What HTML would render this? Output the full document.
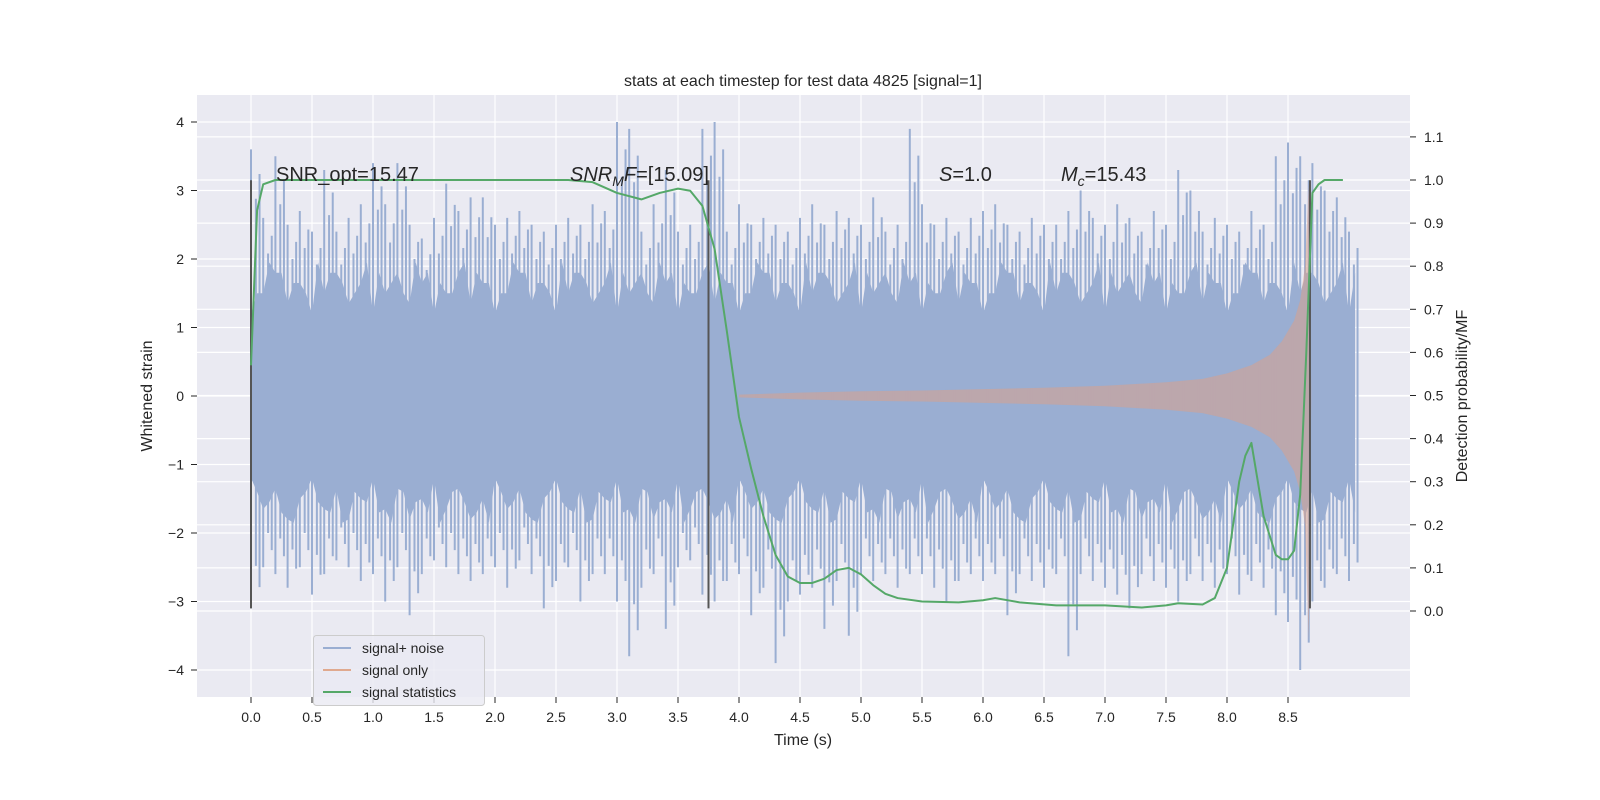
<!DOCTYPE html>
<html><head><meta charset="utf-8"><style>
html,body{margin:0;padding:0;background:#fff;overflow:hidden;width:1600px;height:800px}
svg{display:block}
svg text{font-family:"Liberation Sans","DejaVu Sans",sans-serif;fill:#262626}
</style></head><body>
<svg width="1600" height="800" viewBox="0 0 1600 800">
<rect x="197" y="95" width="1213" height="602" fill="#eaeaf2"/>
<g id="grid"></g>
<g id="noise"></g>
<g id="signal"></g>
<g id="vlines"></g>
<g id="stats"></g>
<g id="axes"></g>
<text x="803" y="86" font-size="16" text-anchor="middle">stats at each timestep for test data 4825 [signal=1]</text>
<text x="803" y="745" font-size="16" text-anchor="middle">Time (s)</text>
<text transform="translate(152,396) rotate(-90)" font-size="16" text-anchor="middle">Whitened strain</text>
<text transform="translate(1467,396) rotate(-90)" font-size="16" text-anchor="middle">Detection probability/MF</text>
<text x="276" y="181" font-size="20">SNR_opt=15.47</text>
<text x="570" y="181" font-size="20"><tspan font-style="italic">SNR</tspan><tspan font-style="italic" font-size="14" dy="5">M</tspan><tspan font-style="italic" dy="-5">F</tspan>=[15.09]</text>
<text x="939" y="181" font-size="20"><tspan font-style="italic">S</tspan>=1.0</text>
<text x="1061" y="181" font-size="20"><tspan font-style="italic">M</tspan><tspan font-style="italic" font-size="14" dy="5">c</tspan><tspan dy="-5">=15.43</tspan></text>
<g>
<rect x="313.5" y="635.5" width="171" height="70" rx="3" fill="#eaeaf2" fill-opacity="0.8" stroke="#cccccc"/>
<line x1="323" y1="648" x2="351" y2="648" stroke="#9aaed2" stroke-width="2"/>
<text x="362" y="653" font-size="14">signal+ noise</text>
<line x1="323" y1="670" x2="351" y2="670" stroke="#e0a98e" stroke-width="2"/>
<text x="362" y="675" font-size="14">signal only</text>
<line x1="323" y1="692" x2="351" y2="692" stroke="#55a868" stroke-width="2"/>
<text x="362" y="697" font-size="14">signal statistics</text>
</g>
</svg>
<script>
const xTicks=[0,0.5,1,1.5,2,2.5,3,3.5,4,4.5,5,5.5,6,6.5,7,7.5,8,8.5];
const yTicks=[-4,-3,-2,-1,0,1,2,3,4];
const y2Ticks=[0,0.1,0.2,0.3,0.4,0.5,0.6,0.7,0.8,0.9,1.0,1.1];
const noiseHi=[3.6,2.6,3.5,2.5,2.7,2.4,3.3,2.4,2.6,2.8,3.4,2.8,3.4,2.5,2.3,2.6,3.1,2.7,2.9,2.9,2.5,2.6,2.7,2.5,2.4,2.5,2.6,2.5,2.8,2.7,4.0,3.9,2.4,2.8,3.3,2.4,2.5,3.9,4.0,2.4,2.8,2.5,2.6,2.5,2.4,2.6,2.8,2.5,2.7,2.6,2.5,2.9,2.4,2.5,3.9,2.8,2.5,2.6,2.4,2.6,2.7,2.8,2.5,2.4,2.6,2.5,2.5,2.7,3.0,2.6,2.5,2.8,2.6,2.4,2.7,2.5,3.3,3.0,2.4,2.6,2.5,2.4,2.7,2.5,3.5,3.7,3.5,3.4,3.0,2.9,2.4];
const noiseLo=[-3.1,-2.5,-2.6,-2.8,-2.5,-2.9,-2.6,-2.4,-2.5,-2.7,-2.6,-3.0,-2.5,-3.2,-2.6,-2.4,-2.5,-2.6,-2.7,-2.6,-2.5,-2.8,-2.4,-2.6,-3.1,-2.7,-2.5,-3.0,-2.6,-2.6,-3.0,-3.8,-2.8,-2.6,-3.4,-2.5,-2.4,-2.9,-3.0,-2.7,-2.6,-3.2,-2.8,-3.9,-3.0,-2.9,-2.8,-3.4,-2.7,-3.5,-2.6,-2.7,-2.6,-2.8,-2.6,-2.6,-2.8,-3.0,-2.7,-2.6,-2.7,-2.6,-3.2,-2.6,-2.7,-2.8,-2.6,-3.8,-2.6,-2.7,-2.8,-2.9,-3.1,-2.6,-2.7,-2.8,-3.0,-2.6,-2.7,-2.8,-2.6,-2.9,-2.7,-2.8,-3.2,-3.3,-4.0,-3.0,-2.8,-2.6,-2.7];
const sigT=[4.0,4.5,5.0,5.5,6.0,6.5,7.0,7.5,7.8,8.0,8.2,8.35,8.45,8.55,8.6,8.64,8.67,8.69];
const sigA=[0.02,0.05,0.07,0.08,0.1,0.12,0.15,0.2,0.25,0.33,0.45,0.6,0.8,1.1,1.4,1.9,3.1,0.1];
const statT=[0,0.05,0.1,0.2,0.5,1,2,2.6,2.8,3.0,3.2,3.35,3.5,3.6,3.7,3.8,3.9,4.0,4.1,4.2,4.3,4.4,4.5,4.6,4.7,4.8,4.9,5.0,5.1,5.2,5.3,5.5,5.8,6.0,6.1,6.3,6.6,7.0,7.3,7.5,7.6,7.8,7.9,8.0,8.1,8.15,8.2,8.3,8.4,8.45,8.5,8.55,8.6,8.65,8.7,8.75,8.8,8.95];
const statV=[0.57,0.93,0.99,1.0,1.0,1.0,1.0,1.0,0.995,0.97,0.955,0.97,0.98,0.975,0.94,0.84,0.65,0.45,0.33,0.22,0.13,0.08,0.065,0.065,0.075,0.095,0.1,0.085,0.06,0.04,0.03,0.022,0.02,0.025,0.03,0.02,0.013,0.013,0.008,0.013,0.018,0.015,0.03,0.1,0.3,0.36,0.39,0.22,0.13,0.12,0.12,0.14,0.27,0.6,0.97,0.99,1.0,1.0];
const markers=[0,3.75,8.68];
(function(){
const NS="http://www.w3.org/2000/svg";
const X=t=>251+t*122;const Y=v=>396-v*68.5;const Y2=p=>611-p*431;
function mk(tag,parent,attrs){const e=document.createElementNS(NS,tag);for(const k in attrs)e.setAttribute(k,attrs[k]);document.getElementById(parent).appendChild(e);return e;}
xTicks.forEach(t=>{const l=mk('line','grid',{x1:X(t),x2:X(t),y1:95,y2:697,stroke:'#fff','stroke-width':1.2});

const tx=mk('text','axes',{x:X(t),y:722,'font-size':14,'text-anchor':'middle'});tx.textContent=t.toFixed(1);

const tk=mk('line','axes',{x1:X(t),x2:X(t),y1:697,y2:703,stroke:'#262626'});
});
yTicks.forEach(v=>{const l=mk('line','grid',{x1:197,x2:1410,y1:Y(v),y2:Y(v),stroke:'#fff','stroke-width':1.2});

const tx=mk('text','axes',{x:184,y:Y(v)+5,'font-size':14,'text-anchor':'end'});tx.textContent=v<0?'\u2212'+(-v):String(v);

const tk=mk('line','axes',{x1:191,x2:197,y1:Y(v),y2:Y(v),stroke:'#262626'});
});
y2Ticks.forEach(p=>{const l=mk('line','grid',{x1:197,x2:1410,y1:Y2(p),y2:Y2(p),stroke:'#fff','stroke-width':1.2});

const tx=mk('text','axes',{x:1424,y:Y2(p)+5,'font-size':14});tx.textContent=p.toFixed(1);

const tk=mk('line','axes',{x1:1410,x2:1416,y1:Y2(p),y2:Y2(p),stroke:'#262626'});
});
let upper='',lower='';
noiseHi.forEach((h,i)=>{const t=i*0.1;upper+=X(t)+','+Y(1.2+((i*7)%5)*0.15)+' '+X(t+0.05)+','+Y(1.5+((i*3)%4)*0.15)+' ';});
for(let i=noiseLo.length-1;i>=0;i--){const t=i*0.1;lower+=X(t+0.05)+','+Y(-1.4-((i*5)%4)*0.15)+' '+X(t)+','+Y(-1.2-((i*3)%5)*0.15)+' ';}
const core=mk('polygon','noise',{points:upper+lower,fill:'#9aaed2'});

noiseHi.forEach((h,i)=>{const t=i*0.1;
[[0,h],[0.04,h*0.8],[0.07,h*0.9]].forEach(([d,v])=>{const l=mk('line','noise',{x1:X(t+d),x2:X(t+d),y1:Y(v),y2:Y(noiseLo[i]*(v/h)),stroke:'#9aaed2','stroke-width':2});
});});
let sp='';sigT.forEach((t,i)=>sp+=X(t)+','+Y(sigA[i])+' ');
for(let i=sigT.length-1;i>=0;i--)sp+=X(sigT[i])+','+Y(-sigA[i]*(i==16?1.15:1))+' ';
const sg=mk('polygon','signal',{points:sp,fill:'#dd9f86','fill-opacity':0.5});

markers.forEach(t=>{const l=mk('line','vlines',{x1:X(t),x2:X(t),y1:Y(3.15),y2:Y(-3.1),stroke:'#555','stroke-width':2});
});
const st=mk('polyline','stats',{points:statT.map((t,i)=>X(t)+','+Y2(statV[i])).join(' '),fill:'none',stroke:'#55a868','stroke-width':2,'stroke-linejoin':'round'});

})();
</script>
</body></html>
